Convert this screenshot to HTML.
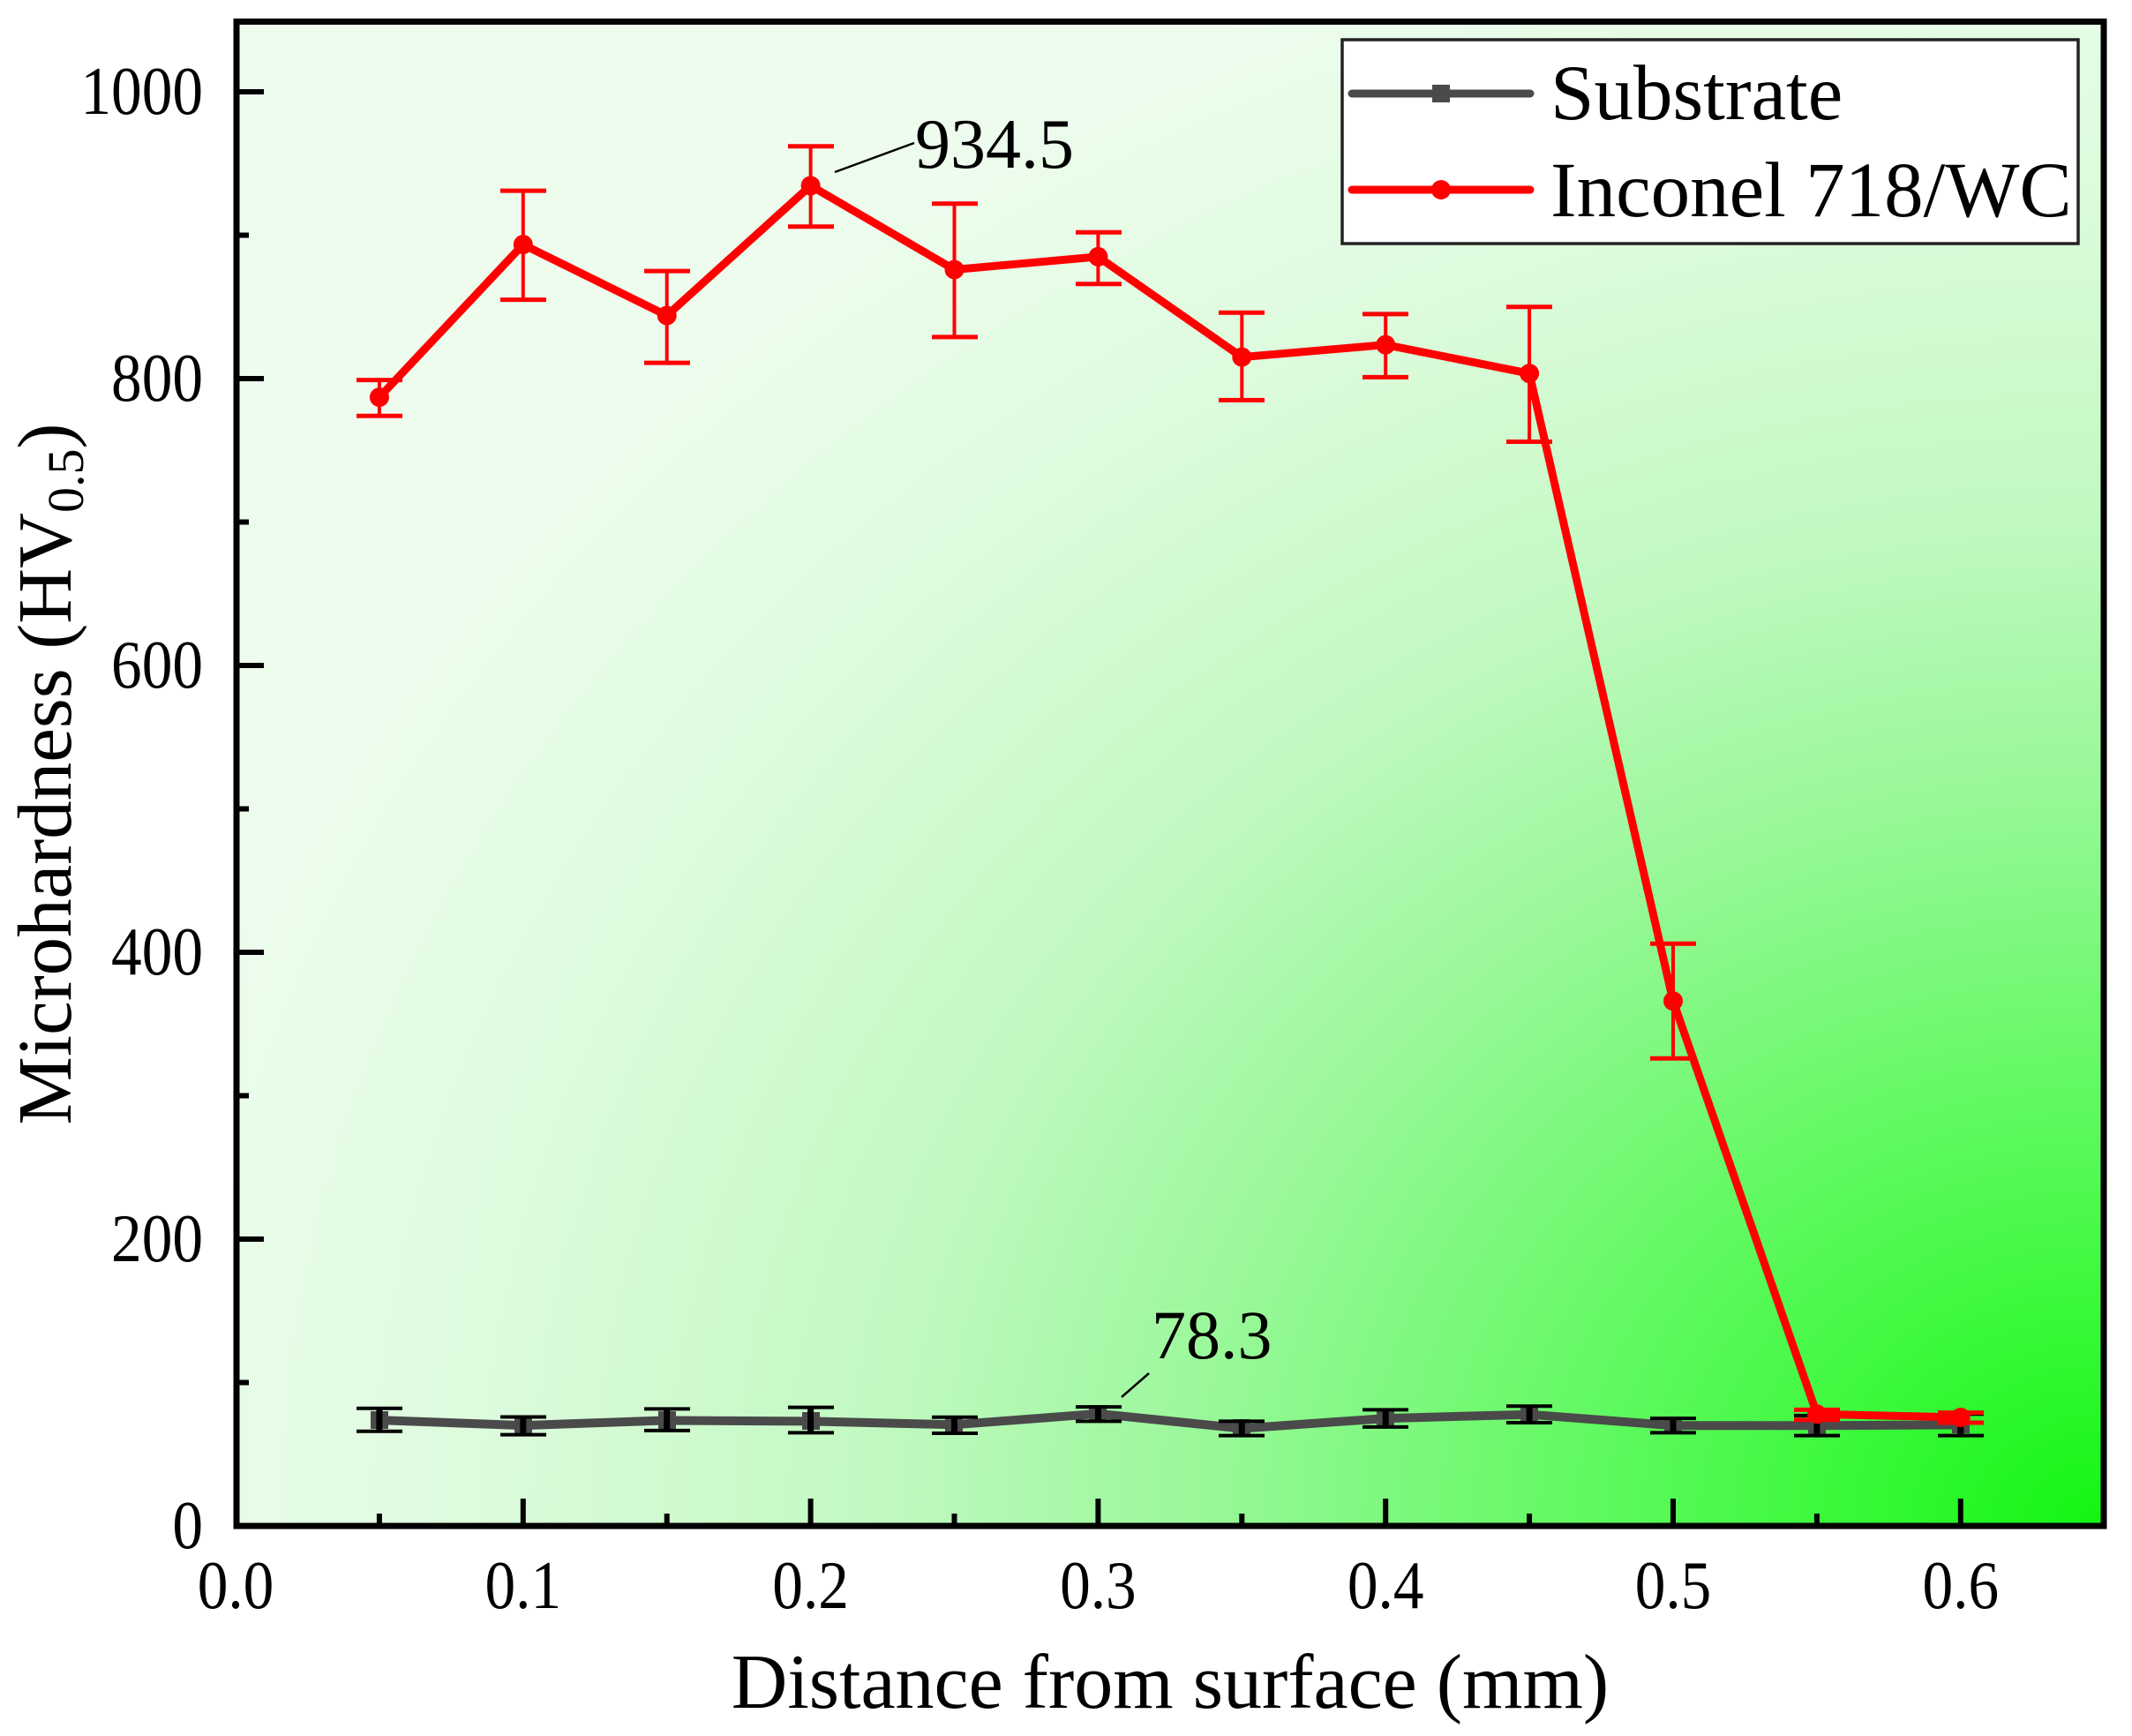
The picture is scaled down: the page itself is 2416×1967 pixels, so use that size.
<!DOCTYPE html>
<html>
<head>
<meta charset="utf-8">
<style>
html,body{margin:0;padding:0;background:#fff;}
svg{display:block;}
text{font-family:"Liberation Serif","Times New Roman",serif;fill:#000;}
</style>
</head>
<body>
<svg width="2416" height="1967" viewBox="0 0 2416 1967" xmlns="http://www.w3.org/2000/svg">
<defs>
<radialGradient id="bg" gradientUnits="userSpaceOnUse" cx="2384" cy="1729" r="1900" gradientTransform="translate(2384,1729) scale(1.21,1) translate(-2384,-1729)">
<stop offset="0" stop-color="#12f512"/>
<stop offset="0.15" stop-color="#40f940"/>
<stop offset="0.3" stop-color="#6ef96e"/>
<stop offset="0.45" stop-color="#9af89a"/>
<stop offset="0.6" stop-color="#c0f9c0"/>
<stop offset="0.8" stop-color="#ddfbdd"/>
<stop offset="1" stop-color="#eefcee"/>
</radialGradient>
</defs>

<!-- plot background -->
<rect x="268" y="24" width="2116" height="1705" fill="url(#bg)"/>

<!-- ticks -->
<g stroke="#000" stroke-width="6">
<line x1="268" y1="104" x2="299" y2="104"/>
<line x1="268" y1="429" x2="299" y2="429"/>
<line x1="268" y1="754" x2="299" y2="754"/>
<line x1="268" y1="1079" x2="299" y2="1079"/>
<line x1="268" y1="1404" x2="299" y2="1404"/>
<line x1="268" y1="266.5" x2="282" y2="266.5"/>
<line x1="268" y1="591.5" x2="282" y2="591.5"/>
<line x1="268" y1="916.5" x2="282" y2="916.5"/>
<line x1="268" y1="1241.5" x2="282" y2="1241.5"/>
<line x1="268" y1="1566.5" x2="282" y2="1566.5"/>
<line x1="592.8" y1="1729" x2="592.8" y2="1698"/>
<line x1="918.6" y1="1729" x2="918.6" y2="1698"/>
<line x1="1244.4" y1="1729" x2="1244.4" y2="1698"/>
<line x1="1570.2" y1="1729" x2="1570.2" y2="1698"/>
<line x1="1896" y1="1729" x2="1896" y2="1698"/>
<line x1="2221.8" y1="1729" x2="2221.8" y2="1698"/>
<line x1="429.9" y1="1729" x2="429.9" y2="1715"/>
<line x1="755.7" y1="1729" x2="755.7" y2="1715"/>
<line x1="1081.5" y1="1729" x2="1081.5" y2="1715"/>
<line x1="1407.3" y1="1729" x2="1407.3" y2="1715"/>
<line x1="1733.1" y1="1729" x2="1733.1" y2="1715"/>
<line x1="2058.9" y1="1729" x2="2058.9" y2="1715"/>
</g>

<!-- Substrate series -->
<polyline fill="none" stroke="#4a4a4a" stroke-width="10" stroke-linejoin="round"
points="429.9,1609.1 592.8,1615.1 755.7,1609.4 918.6,1610.4 1081.5,1614.3 1244.4,1601.8 1407.3,1618.5 1570.2,1607.1 1733.1,1602.7 1896,1615.25 2058.9,1615.25 2221.8,1614.4"/>
<g fill="#4a4a4a">
<rect x="420" y="1599" width="20" height="20"/>
<rect x="583" y="1605" width="20" height="20"/>
<rect x="746" y="1599" width="20" height="20"/>
<rect x="909" y="1600" width="20" height="20"/>
<rect x="1071" y="1604" width="20" height="20"/>
<rect x="1234" y="1592" width="20" height="20"/>
<rect x="1397" y="1608" width="20" height="20"/>
<rect x="1560" y="1597" width="20" height="20"/>
<rect x="1723" y="1593" width="20" height="20"/>
<rect x="1886" y="1605" width="20" height="20"/>
<rect x="2049" y="1605" width="20" height="20"/>
<rect x="2212" y="1604" width="20" height="20"/>
</g>
<g stroke="#000" stroke-width="4">
<path d="M429.9,1595.75V1621.75M404,1595.75H456M404,1621.75H456" />
<path d="M592.8,1605.5V1625.65M567,1605.5H619M567,1625.65H619" />
<path d="M755.7,1596.4V1620.9M730,1596.4H782M730,1620.9H782" />
<path d="M918.6,1594.6V1623.4M893,1594.6H945M893,1623.4H945" />
<path d="M1081.5,1605.7V1624M1056,1605.7H1108M1056,1624H1108" />
<path d="M1244.4,1594.1V1610.4M1219,1594.1H1271M1219,1610.4H1271" />
<path d="M1407.3,1610.4V1626.6M1381,1610.4H1433M1381,1626.6H1433" />
<path d="M1570.2,1597.4V1616.9M1544,1597.4H1596M1544,1616.9H1596" />
<path d="M1733.1,1593.3V1612M1707,1593.3H1759M1707,1612H1759" />
<path d="M1896,1607.1V1623.4M1870,1607.1H1922M1870,1623.4H1922" />
<path d="M2058.9,1603.9V1626.6M2033,1603.9H2085M2033,1626.6H2085" />
<path d="M2221.8,1602.25V1626.6M2196,1602.25H2248M2196,1626.6H2248" />
</g>
<g stroke="#000" stroke-width="7">
<line x1="429.9" y1="1597" x2="429.9" y2="1620"/>
<line x1="592.8" y1="1607" x2="592.8" y2="1624"/>
<line x1="755.7" y1="1598" x2="755.7" y2="1619"/>
<line x1="918.6" y1="1596" x2="918.6" y2="1622"/>
<line x1="1081.5" y1="1607" x2="1081.5" y2="1622"/>
<line x1="1244.4" y1="1596" x2="1244.4" y2="1609"/>
<line x1="1407.3" y1="1612" x2="1407.3" y2="1625"/>
<line x1="1570.2" y1="1599" x2="1570.2" y2="1615"/>
<line x1="1733.1" y1="1595" x2="1733.1" y2="1610"/>
<line x1="1896" y1="1609" x2="1896" y2="1622"/>
<line x1="2058.9" y1="1606" x2="2058.9" y2="1625"/>
<line x1="2221.8" y1="1604" x2="2221.8" y2="1625"/>
</g>

<!-- Inconel 718/WC series -->
<polyline fill="none" stroke="#ff0000" stroke-width="9" stroke-linejoin="round"
points="429.9,450.1 592.8,277.1 755.7,357.5 918.6,210.4 1081.5,305.5 1244.4,290.9 1407.3,404.6 1570.2,390.65 1733.1,423.15 1896,1134.25 2058.9,1602.25 2221.8,1606"/>
<g stroke="#ff0000" stroke-width="4" fill="none">
<path d="M429.9,430.6V471.3"/>
<path d="M592.8,216.1V339.6"/>
<path d="M755.7,307.1V411.1"/>
<path d="M918.6,165.75V256.75"/>
<path d="M1081.5,230.75V381.9"/>
<path d="M1244.4,263.25V321.75"/>
<path d="M1407.3,354.25V453.4"/>
<path d="M1570.2,355.9V427.4"/>
<path d="M1733.1,347.75V500.5"/>
<path d="M1896,1069.25V1199.25"/>
<path d="M2058.9,1597.4V1608.75"/>
<path d="M2221.8,1600.6V1612"/>
</g>
<g stroke="#ff0000" stroke-width="5" fill="none">
<path d="M404,430.6H456M404,471.3H456"/>
<path d="M567,216.1H619M567,339.6H619"/>
<path d="M730,307.1H782M730,411.1H782"/>
<path d="M893,165.75H945M893,256.75H945"/>
<path d="M1056,230.75H1108M1056,381.9H1108"/>
<path d="M1219,263.25H1271M1219,321.75H1271"/>
<path d="M1381,354.25H1433M1381,453.4H1433"/>
<path d="M1544,355.9H1596M1544,427.4H1596"/>
<path d="M1707,347.75H1759M1707,500.5H1759"/>
<path d="M1870,1069.25H1922M1870,1199.25H1922"/>
<path d="M2033,1597.4H2085M2033,1608.75H2085"/>
<path d="M2196,1600.6H2248M2196,1612H2248"/>
</g>
<g fill="#ff0000">
<circle cx="429.9" cy="450.1" r="11"/>
<circle cx="592.8" cy="277.1" r="11"/>
<circle cx="755.7" cy="357.5" r="11"/>
<circle cx="918.6" cy="210.4" r="11"/>
<circle cx="1081.5" cy="305.5" r="11"/>
<circle cx="1244.4" cy="290.9" r="11"/>
<circle cx="1407.3" cy="404.6" r="11"/>
<circle cx="1570.2" cy="390.65" r="11"/>
<circle cx="1733.1" cy="423.15" r="11"/>
<circle cx="1896" cy="1134.25" r="11"/>
<circle cx="2058.9" cy="1602.25" r="11"/>
<circle cx="2221.8" cy="1606" r="11"/>
</g>

<!-- annotations -->
<line x1="946" y1="195" x2="1036" y2="162" stroke="#000" stroke-width="2.5"/>
<text x="1037" y="190" font-size="80">934.5</text>
<line x1="1271" y1="1583" x2="1302" y2="1556" stroke="#000" stroke-width="2.5"/>
<text x="1305" y="1539" font-size="78">78.3</text>

<!-- axes frame -->
<rect x="268" y="24.5" width="2116" height="1704.5" fill="none" stroke="#000" stroke-width="7"/>

<!-- legend -->
<rect x="1521" y="45" width="834" height="231" fill="#fff" stroke="#222" stroke-width="3.5"/>
<line x1="1532" y1="106" x2="1734" y2="106" stroke="#4a4a4a" stroke-width="9" stroke-linecap="round"/>
<rect x="1623" y="96" width="20" height="20" fill="#4a4a4a"/>
<text x="1757" y="135" font-size="89">Substrate</text>
<line x1="1532" y1="215" x2="1734" y2="215" stroke="#ff0000" stroke-width="9" stroke-linecap="round"/>
<circle cx="1633" cy="215" r="11" fill="#ff0000"/>
<text x="1757" y="245" font-size="89">Inconel 718/WC</text>

<!-- y tick labels -->
<g font-size="77" text-anchor="end">
<text transform="translate(230,129) scale(0.9,1)">1000</text>
<text transform="translate(230,454) scale(0.9,1)">800</text>
<text transform="translate(230,779) scale(0.9,1)">600</text>
<text transform="translate(230,1104) scale(0.9,1)">400</text>
<text transform="translate(230,1429) scale(0.9,1)">200</text>
<text transform="translate(230,1754) scale(0.9,1)">0</text>
</g>

<!-- x tick labels -->
<g font-size="77" text-anchor="middle">
<text transform="translate(267,1822) scale(0.9,1)">0.0</text>
<text transform="translate(592.8,1822) scale(0.9,1)">0.1</text>
<text transform="translate(918.6,1822) scale(0.9,1)">0.2</text>
<text transform="translate(1244.4,1822) scale(0.9,1)">0.3</text>
<text transform="translate(1570.2,1822) scale(0.9,1)">0.4</text>
<text transform="translate(1896,1822) scale(0.9,1)">0.5</text>
<text transform="translate(2221.8,1822) scale(0.9,1)">0.6</text>
</g>

<!-- axis titles -->
<text x="1326" y="1935" font-size="88" text-anchor="middle">Distance from surface (mm)</text>
<text transform="translate(80,877) rotate(-90)" font-size="87" text-anchor="middle">Microhardness (HV<tspan font-size="58" dy="14">0.5</tspan><tspan dy="-14">)</tspan></text>
</svg>
</body>
</html>
